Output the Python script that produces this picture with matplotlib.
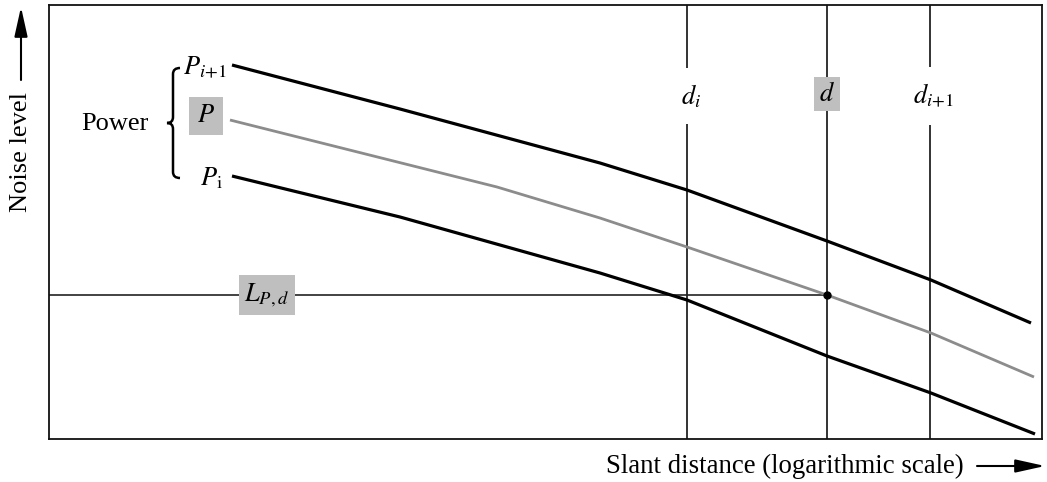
import matplotlib
matplotlib.use("Agg")
import matplotlib.pyplot as plt
from matplotlib.path import Path
from matplotlib.patches import PathPatch

plt.rcParams['font.family'] = ['Liberation Serif', 'DejaVu Serif']
plt.rcParams['mathtext.fontset'] = 'stix'

# noise level curves, one per power step (x: log distance units, y: level units)
x_upper = [183, 351, 551, 638, 778, 882, 982]
y_upper = [374, 330, 276, 249, 198, 159, 116]
x_mid = [181, 448, 551, 638, 778, 882, 985]
y_mid = [319, 252, 221, 192, 144, 106, 62]
x_lower = [183, 351, 551, 638, 778, 882, 986]
y_lower = [263, 222, 166, 139, 83, 46, 5]

# distance steps and the interpolated point
d_lines = [638, 778, 881]
d_labels = [r'$d_i$', r'$d$', r'$d_{i\!+\!1}$']
d_point = 778
L_pd = 144

GRAY_BOX = '#bfbfbf'

fig = plt.figure(figsize=(10.47, 4.82), dpi=100)
ax = fig.add_axes([49 / 1047, 43 / 482, 993 / 1047, 434 / 482])
ax.set_xlim(0, 993)
ax.set_ylim(0, 434)
ax.set_xticks([])
ax.set_yticks([])
for s in ax.spines.values():
    s.set_linewidth(1.3)
    s.set_color('#111111')

ax.plot(x_upper, y_upper, color='black', lw=2.3, solid_capstyle='butt', zorder=3)
ax.plot(x_mid, y_mid, color='#8c8c8c', lw=2.0, solid_capstyle='butt', zorder=3)
ax.plot(x_lower, y_lower, color='black', lw=2.3, solid_capstyle='butt', zorder=3)

# vertical distance markers with labels sitting over them
for xv, lab in zip(d_lines, d_labels):
    ax.axvline(xv, color='#111111', lw=1.2, zorder=2)
    if lab == r'$d$':
        box = dict(boxstyle='square,pad=0.2', fc=GRAY_BOX, ec='none')
        ax.text(xv, 439 - 94, lab, fontsize=19, ha='center', va='center', bbox=box, zorder=4)
    else:
        box = dict(boxstyle='square,pad=0.55', fc='white', ec='none')
        ax.text(xv + 4, 439 - 96, lab, fontsize=19, ha='center', va='center', bbox=box, zorder=4)

# horizontal noise level line ending at the point
ax.plot([0, d_point], [L_pd, L_pd], color='#222222', lw=1.2, zorder=2)
ax.plot([d_point], [L_pd], 'o', color='black', ms=5, zorder=5)
ax.text(218, L_pd, r'$L_{P,d}$', fontsize=19, ha='center', va='center',
        bbox=dict(boxstyle='square,pad=0.22', fc=GRAY_BOX, ec='none'), zorder=4)

# curve labels
ax.text(178, 439 - 68, r'$P_{i\!+\!1}$', fontsize=19, ha='right', va='center')
ax.text(157, 439 - 116, r'$P$', fontsize=19, ha='center', va='center',
        bbox=dict(boxstyle='square,pad=0.3', fc=GRAY_BOX, ec='none'))
ax.text(174, 439 - 178, r'$P_{\mathrm{i}}$', fontsize=19, ha='right', va='center')

# brace grouping the power labels
verts = [(131, 371), (124, 371), (124, 365),
         (124, 322),
         (124, 316), (118, 316),
         (124, 316), (124, 310),
         (124, 267),
         (124, 261), (131, 261)]
codes = [Path.MOVETO, Path.CURVE3, Path.CURVE3,
         Path.LINETO,
         Path.CURVE3, Path.CURVE3,
         Path.CURVE3, Path.CURVE3,
         Path.LINETO,
         Path.CURVE3, Path.CURVE3]
ax.add_patch(PathPatch(Path(verts, codes), fc='none', ec='black', lw=1.8))
ax.text(66, 439 - 124, 'Power', fontsize=19, ha='center', va='center')

# axis titles with arrows
fig.text(21 / 1047, 1 - 152 / 482, 'Noise level', rotation=90, fontsize=19,
         ha='center', va='center')
fig.text(785 / 1047, 1 - 466 / 482, 'Slant distance (logarithmic scale)', fontsize=19.3,
         ha='center', va='center')
arrow = dict(arrowstyle='-|>,head_length=0.9,head_width=0.2', color='black',
             lw=1.5, mutation_scale=20, shrinkA=0, shrinkB=0)
ax.annotate('', xy=(21, 475), xytext=(21, 402), xycoords='figure pixels',
            textcoords='figure pixels', arrowprops=arrow, annotation_clip=False)
ax.annotate('', xy=(1045, 16), xytext=(977, 16), xycoords='figure pixels',
            textcoords='figure pixels', arrowprops=arrow, annotation_clip=False)

fig.savefig('out.png', dpi=100)
